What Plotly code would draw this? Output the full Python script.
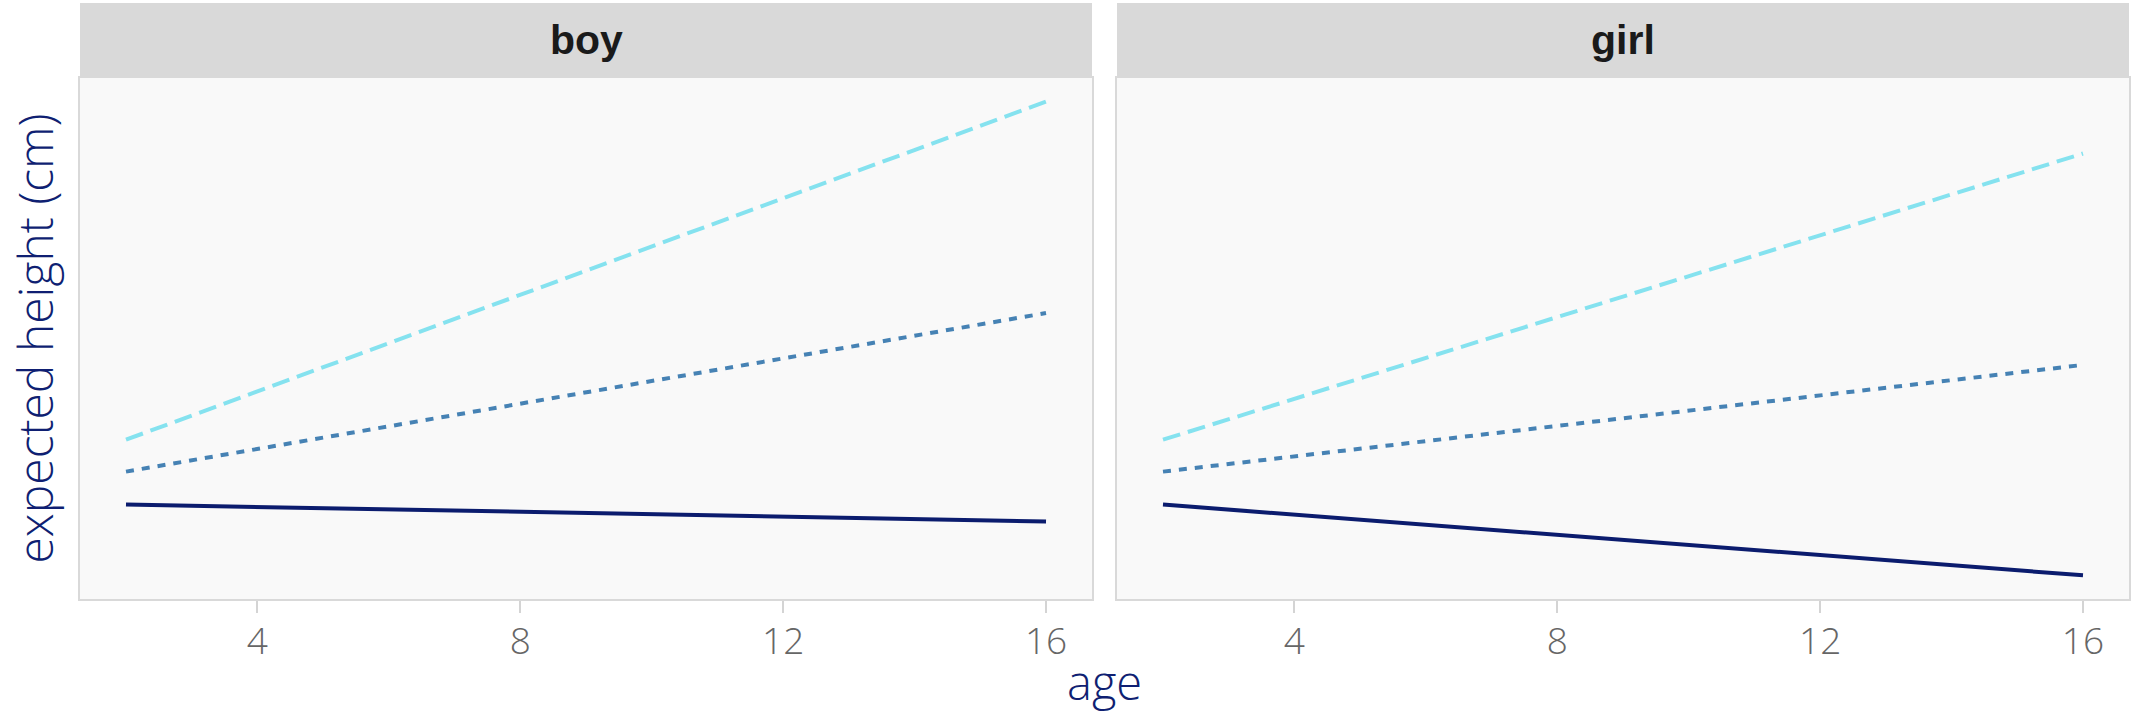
import plotly.graph_objects as go

# ---- data ----
ages = [2, 16]
panels = ["boy", "girl"]
boy_high = [80.0, 249.5]
boy_mid = [64.0, 143.5]
boy_low = [47.5, 39.0]
girl_high = [80.0, 223.5]
girl_mid = [64.0, 117.5]
girl_low = [47.5, 12.0]
x_ticks = [4, 8, 12, 16]

# ---- styles ----
COL_HIGH = "#85e2ef"
COL_MID = "#4682b4"
COL_LOW = "#0b1c6e"
TXT_NAVY = "#0f1f72"
FONT = "Open Sans"

W, H = 2133, 716
L, R, T, B = 80, 2, 3, 117
plot_w = W - L - R
plot_h = H - T - B
strip_px = 75
gap_px = 25
panel_w = (plot_w - gap_px) / 2
dom1 = [0, panel_w / plot_w]
dom2 = [(panel_w + gap_px) / plot_w, 1]
ytop = (plot_h - strip_px) / plot_h

all_y = boy_high + boy_mid + boy_low + girl_high + girl_mid + girl_low
ymin, ymax = min(all_y), max(all_y)
ypad = 0.05 * (ymax - ymin)
xpad = 0.05 * (max(ages) - min(ages))
xr = [min(ages) - xpad, max(ages) + xpad]
yr = [ymin - ypad, ymax + ypad]

fig = go.Figure()
series = [
    ("x", "y", boy_high, COL_HIGH, "18px,8px"),
    ("x", "y", boy_mid, COL_MID, "8px,8px"),
    ("x", "y", boy_low, COL_LOW, "solid"),
    ("x2", "y2", girl_high, COL_HIGH, "18px,8px"),
    ("x2", "y2", girl_mid, COL_MID, "8px,8px"),
    ("x2", "y2", girl_low, COL_LOW, "solid"),
]
for xa, ya, vals, col, dash in series:
    fig.add_trace(go.Scatter(x=ages, y=vals, xaxis=xa, yaxis=ya, mode="lines",
                             line=dict(color=col, width=4, dash=dash),
                             showlegend=False, hoverinfo="skip"))

xcommon = dict(range=xr, tickvals=x_ticks, ticktext=[str(v) for v in x_ticks],
               showgrid=False, zeroline=False, showline=True, mirror=True,
               linecolor="#d9d9d9", linewidth=2, ticks="outside", ticklen=12,
               tickwidth=2, tickcolor="#d4d4d4", ticklabelstandoff=-3,
               tickfont=dict(family=FONT, size=37, color="#666666", weight=300))
ycommon = dict(range=yr, showticklabels=False, ticks="", showgrid=False,
               zeroline=False, showline=True, mirror=True,
               linecolor="#d9d9d9", linewidth=2)

fig.update_layout(
    width=W, height=H, margin=dict(l=L, r=R, t=T, b=B),
    paper_bgcolor="white", plot_bgcolor="#f9f9f9",
    xaxis=dict(domain=dom1, anchor="y", **xcommon),
    xaxis2=dict(domain=dom2, anchor="y2", **xcommon),
    yaxis=dict(domain=[0, ytop], anchor="x", **ycommon),
    yaxis2=dict(domain=[0, ytop], anchor="x2", **ycommon),
)

shapes = []
annotations = []
for dom, name in zip([dom1, dom2], panels):
    shapes.append(dict(type="rect", xref="paper", yref="paper", x0=dom[0], x1=dom[1],
                       y0=ytop, y1=1, fillcolor="#d9d9d9", line=dict(width=0), layer="below"))
    annotations.append(dict(text="<b>" + name + "</b>", xref="paper", yref="paper",
                            x=(dom[0] + dom[1]) / 2, y=(ytop + 1) / 2, xanchor="center",
                            yanchor="middle", showarrow=False,
                            font=dict(family="Liberation Sans", size=41, color="#1a1a1a")))
annotations.append(dict(text="age", xref="paper", yref="paper", x=0.5, y=-0.139,
                        xanchor="center", yanchor="middle", showarrow=False,
                        font=dict(family=FONT, size=47, color=TXT_NAVY, weight=300)))
annotations.append(dict(text="expected height (cm)", xref="paper", yref="paper",
                        x=-(L - 34) / plot_w, y=ytop / 2, xanchor="center", yanchor="middle",
                        textangle=-90, showarrow=False,
                        font=dict(family=FONT, size=48, color=TXT_NAVY, weight=300)))
fig.update_layout(shapes=shapes, annotations=annotations)

fig.write_html("out.html", config={"displayModeBar": False},
               post_script="document.body.style.margin='0';document.body.style.overflow='hidden';")
